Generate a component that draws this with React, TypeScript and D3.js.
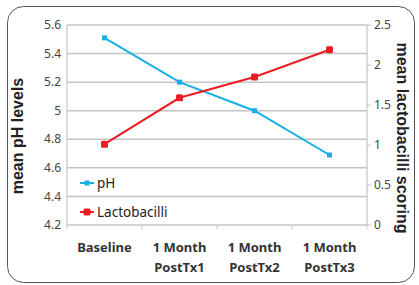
import React from "react";
import * as d3 from "d3";

const categories = [["Baseline"], ["1 Month", "PostTx1"], ["1 Month", "PostTx2"], ["1 Month", "PostTx3"]];
const phValues = [5.51, 5.2, 5.0, 4.69];
const lactoValues = [1.01, 1.59, 1.85, 2.19];
const leftTicks = [4.2, 4.4, 4.6, 4.8, 5, 5.2, 5.4, 5.6];
const rightTicks = [0, 0.5, 1, 1.5, 2, 2.5];

const W = 419, H = 285;
const L = 67, R = 367, T = 25, B = 225;
const FONT = "'Noto Sans', 'Open Sans', sans-serif";
const TFONT = "'Liberation Sans', Arial, sans-serif";
const BLUE = "#17afe6";
const RED = "#ec1c24";

export default function App() {
  const x = d3.scaleBand<number>().domain(d3.range(categories.length)).range([L, R]);
  const yL = d3.scaleLinear().domain([4.2, 5.6]).range([B, T]);
  const yR = d3.scaleLinear().domain([0, 2.5]).range([B, T]);
  const cx = (i: number) => (x(i) as number) + x.bandwidth() / 2;
  const phLine = d3.line<number>().x((_, i) => cx(i)).y((d) => yL(d));
  const laLine = d3.line<number>().x((_, i) => cx(i)).y((d) => yR(d));
  const fmt = (v: number) => String(v);

  return (
    <svg width={W} height={H} style={{ position: "absolute", left: 0, top: 0 }}>
      <rect x={0} y={0} width={W} height={H} fill="#fff" />
      <rect x={7.5} y={6.5} width={407} height={276} rx={16} ry={16} fill="none" stroke="#555" strokeWidth={1} />
      {leftTicks.map((t) => (
        <line key={"g" + t} x1={L} x2={R} y1={yL(t)} y2={yL(t)} stroke="#c4c4c4" strokeWidth={1.5} />
      ))}
      <line x1={L} x2={L} y1={T} y2={B} stroke="#c4c4c4" strokeWidth={1.2} />
      <line x1={R} x2={R} y1={T} y2={B} stroke="#c4c4c4" strokeWidth={1.2} />
      {d3.range(categories.length + 1).map((i) => {
        const xx = L + i * x.bandwidth();
        return <line key={"xt" + i} x1={xx} x2={xx} y1={B} y2={B + 4} stroke="#c4c4c4" strokeWidth={1} />;
      })}
      {rightTicks.map((t) => (
        <line key={"rt" + t} x1={R} x2={R + 4} y1={yR(t)} y2={yR(t)} stroke="#c4c4c4" strokeWidth={1} />
      ))}
      {leftTicks.map((t) => (
        <text key={"lt" + t} x={61} y={yL(t)} dy="0.35em" textAnchor="end" fontFamily={FONT} fontSize={12} fill="#444">
          {fmt(t)}
        </text>
      ))}
      {rightTicks.map((t) => (
        <text key={"rl" + t} x={374} y={yR(t)} dy="0.35em" textAnchor="start" fontFamily={FONT} fontSize={12} fill="#444">
          {fmt(t)}
        </text>
      ))}
      {categories.map((c, i) =>
        c.map((s, j) => (
          <text key={"c" + i + j} x={cx(i)} y={252 + j * 20} textAnchor="middle" fontFamily={FONT} fontSize={13} fontWeight="bold" fill="#333">
            {s}
          </text>
        ))
      )}
      <text transform="translate(23,136) rotate(-90)" textAnchor="middle" fontFamily={TFONT} fontSize={16} fontWeight="bold" fill="#222">
        mean pH levels
      </text>
      <text transform="translate(397,138) rotate(90)" textAnchor="middle" fontFamily={TFONT} fontSize={16} fontWeight="bold" fill="#222">
        mean lactobacilli scoring
      </text>
      <path d={phLine(phValues) || ""} fill="none" stroke={BLUE} strokeWidth={2} />
      {phValues.map((v, i) => (
        <rect key={"pm" + i} x={cx(i) - 2.5} y={yL(v) - 2.5} width={5} height={5} fill={BLUE} />
      ))}
      <path d={laLine(lactoValues) || ""} fill="none" stroke={RED} strokeWidth={2} />
      {lactoValues.map((v, i) => (
        <rect key={"lm" + i} x={cx(i) - 3.5} y={yR(v) - 3.5} width={7} height={7} rx={1.5} fill={RED} />
      ))}
      <line x1={80} x2={94} y1={183} y2={183} stroke={BLUE} strokeWidth={2} />
      <rect x={84.5} y={180.5} width={5} height={5} fill={BLUE} />
      <text x={97} y={183} dy="0.35em" fontFamily={FONT} fontSize={13.5} fill="#222">pH</text>
      <line x1={80} x2={94} y1={212} y2={212} stroke={RED} strokeWidth={2} />
      <rect x={83.5} y={208.5} width={7} height={7} rx={1.5} fill={RED} />
      <text x={97} y={212} dy="0.35em" fontFamily={FONT} fontSize={13.5} fill="#222">Lactobacilli</text>
    </svg>
  );
}
